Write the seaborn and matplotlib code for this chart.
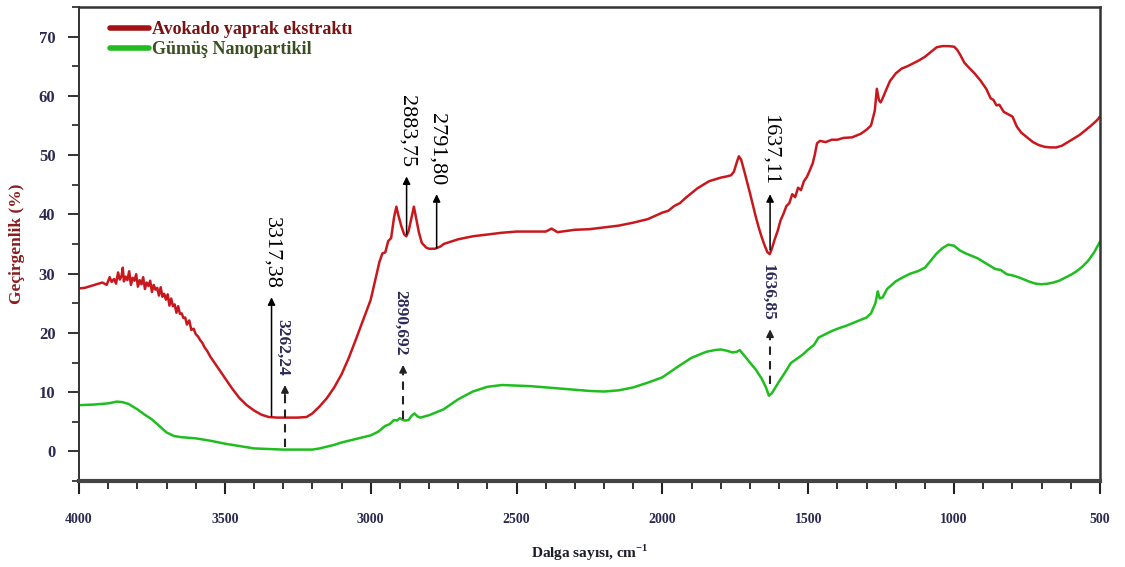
import matplotlib
matplotlib.use("Agg")
import matplotlib.pyplot as plt
import seaborn as sns
import pandas as pd
import numpy as np
from matplotlib.lines import Line2D

# ---- data ----
red_wn = [4000, 3980, 3960, 3940, 3920, 3905, 3895, 3888, 3880, 3873, 3866, 3860, 3854, 3850,
          3846, 3840, 3834, 3828, 3822, 3816, 3810, 3804, 3798, 3792, 3786, 3780, 3774, 3768,
          3762, 3756, 3750, 3744, 3738, 3732, 3726, 3720, 3714, 3708, 3702, 3696, 3690, 3684,
          3678, 3672, 3666, 3660, 3654, 3648, 3642, 3636, 3630, 3622, 3615, 3607, 3600, 3592,
          3585, 3577, 3570, 3560, 3550, 3525, 3500, 3475, 3450, 3425,
          3400, 3375, 3350, 3320, 3300, 3250, 3220, 3200, 3175, 3150, 3125, 3100, 3075, 3050,
          3025, 3000, 2985, 2970, 2960, 2950, 2940, 2930, 2920, 2912, 2905, 2895, 2885, 2878,
          2870, 2860, 2852, 2845, 2835, 2825, 2810, 2800, 2780, 2760, 2750, 2700, 2650, 2600,
          2550, 2500, 2450, 2400, 2380, 2360, 2300, 2250, 2200, 2150, 2100, 2050, 2000, 1980,
          1960, 1940, 1920, 1900, 1880, 1860, 1840, 1820, 1800, 1780, 1765, 1755, 1745, 1738,
          1730, 1720, 1710, 1700, 1690, 1680, 1670, 1660, 1650, 1640, 1632, 1625, 1615, 1605,
          1595, 1585, 1575, 1565, 1555, 1545, 1535, 1525, 1515, 1505, 1495, 1485, 1478, 1470,
          1460, 1440, 1420, 1400, 1380, 1350, 1320, 1300, 1285, 1272, 1265, 1258, 1252, 1245,
          1235, 1220, 1200, 1180, 1160, 1140, 1120, 1100, 1080, 1060, 1040, 1020, 1000, 990,
          980, 965, 950, 930, 910, 890, 875, 865, 855, 845, 830, 815, 800, 785, 770, 750, 730,
          710, 690, 670, 650, 630, 610, 590, 570, 550, 530, 510, 500]
red_t = [27.5, 27.6, 27.9, 28.2, 28.5, 28.1, 29.4, 28.6, 29.1, 28.3, 30.2, 29.0, 29.6, 31.0,
         28.7, 29.5, 28.9, 30.4, 28.1, 29.3, 28.8, 29.9, 27.8, 28.9, 28.2, 29.4, 27.4, 28.5,
         27.9, 28.8, 26.9, 28.1, 27.3, 27.6, 26.3, 27.7, 26.1, 26.6, 25.6, 26.5, 24.6, 25.8,
         24.5, 24.8, 23.4, 24.5, 23.2, 23.3, 22.5, 22.6, 21.4, 22.1, 20.5, 20.7, 19.8, 19.4,
         18.8, 18.3, 17.6, 16.9, 16.0, 14.2, 12.4, 10.6, 9.0, 7.8,
         6.9, 6.2, 5.8, 5.7, 5.7, 5.7, 5.8, 6.4, 7.6, 9.0, 10.8, 13.0, 15.8, 19.0,
         22.3, 25.6, 28.8, 32.0, 33.4, 33.6, 35.5, 36.0, 39.5, 41.3, 39.8, 38.0, 36.6, 36.3,
         37.2, 39.5, 41.3, 39.5, 37.0, 35.2, 34.4, 34.2, 34.2, 34.6, 35.0, 35.8, 36.3, 36.6,
         36.9, 37.1, 37.1, 37.1, 37.6, 37.0, 37.4, 37.5, 37.8, 38.1, 38.6, 39.2, 40.3, 40.6,
         41.4, 41.9, 42.8, 43.6, 44.4, 45.0, 45.6, 45.9, 46.2, 46.4, 46.6, 47.2, 48.8, 49.8,
         49.2, 47.4, 45.5, 43.6, 41.6, 39.6, 37.8, 36.2, 34.8, 33.6, 33.3, 34.2, 35.8, 37.2,
         39.0, 40.1, 41.4, 41.9, 43.4, 42.9, 44.5, 44.1, 45.6, 46.3, 47.4, 48.6, 50.0, 52.0,
         52.4, 52.2, 52.6, 52.6, 52.9, 53.0, 53.6, 54.3, 55.0, 57.5, 61.2, 59.3, 58.9, 59.6,
         60.8, 62.5, 63.8, 64.6, 65.0, 65.5, 66.0, 66.6, 67.4, 68.2, 68.4, 68.4, 68.3, 67.8,
         67.0, 65.6, 64.8, 63.8, 62.6, 61.2, 59.6, 59.3, 58.4, 58.5, 57.3, 56.9, 56.5, 54.8,
         53.8, 53.0, 52.2, 51.7, 51.4, 51.3, 51.3, 51.6, 52.2, 52.8, 53.4, 54.2, 55.0, 55.9, 56.5]

green_wn = [4000, 3950, 3900, 3870, 3850, 3830, 3800, 3775, 3750, 3725, 3700, 3675, 3650,
            3600, 3550, 3500, 3450, 3400, 3350, 3300, 3250, 3200, 3175, 3150, 3125, 3100,
            3050, 3000, 2975, 2950, 2935, 2920, 2910, 2900, 2890, 2880, 2870, 2860, 2850,
            2840, 2830, 2800, 2775, 2750, 2700, 2650, 2600, 2550, 2500, 2450, 2400, 2350,
            2300, 2250, 2200, 2150, 2100, 2050, 2000, 1950, 1900, 1850, 1820, 1800, 1780,
            1760, 1745, 1735, 1720, 1700, 1680, 1660, 1645, 1635, 1625, 1610, 1600, 1580,
            1560, 1540, 1520, 1500, 1480, 1465, 1440, 1420, 1400, 1370, 1340, 1300, 1285,
            1270, 1262, 1255, 1245, 1230, 1200, 1175, 1150, 1125, 1100, 1080, 1060, 1040,
            1020, 1000, 980, 960, 940, 920, 900, 880, 860, 840, 820, 800, 780, 760, 740,
            720, 700, 680, 660, 640, 620, 600, 580, 560, 540, 520, 500]
green_t = [7.8, 7.9, 8.1, 8.4, 8.3, 8.0, 7.1, 6.2, 5.4, 4.3, 3.2, 2.6, 2.4,
           2.2, 1.8, 1.3, 0.9, 0.5, 0.4, 0.3, 0.3, 0.3, 0.5, 0.8, 1.1, 1.5,
           2.1, 2.7, 3.3, 4.3, 4.6, 5.3, 5.2, 5.6, 5.3, 5.2, 5.3, 6.0, 6.4,
           5.9, 5.7, 6.1, 6.6, 7.1, 8.8, 10.1, 10.9, 11.2, 11.1, 11.0, 10.8, 10.6,
           10.4, 10.2, 10.1, 10.3, 10.8, 11.6, 12.5, 14.2, 15.8, 16.8, 17.1, 17.2, 17.0,
           16.7, 16.8, 17.1, 16.2, 15.0, 13.8, 12.3, 10.8, 9.4, 9.8, 11.0, 11.8, 13.3,
           14.9, 15.6, 16.3, 17.2, 18.0, 19.2, 19.8, 20.3, 20.7, 21.2, 21.8, 22.6, 23.3,
           25.0, 27.0, 25.8, 26.0, 27.4, 28.7, 29.4, 30.0, 30.4, 31.0, 32.2, 33.4, 34.3,
           34.9, 34.7, 33.9, 33.4, 33.0, 32.6, 32.0, 31.4, 30.8, 30.6, 29.9, 29.7, 29.4, 29.0,
           28.6, 28.3, 28.2, 28.3, 28.5, 28.8, 29.3, 29.8, 30.4, 31.2, 32.2, 33.6, 35.4]

series_labels = ["Avokado yaprak ekstraktı", "Gümüş Nanopartikil"]

# annotations: label, wavenumber of the arrow, arrow start and end (transmittance)
red_ann_labels = ["3317,38", "2883,75", "2791,80", "1637,11"]
red_ann_wn = [3340, 2877, 2774, 1631]
red_ann_y0 = [6.0, 36.6, 34.3, 34.0]
red_ann_y1 = [26.0, 46.4, 43.4, 43.4]

green_ann_labels = ["3262,24", "2890,692", "1636,85"]
green_ann_wn = [3294, 2889, 1631]
green_ann_y0 = [0.8, 5.4, 11.4]
green_ann_y1 = [11.2, 14.6, 20.6]

# ---- styling ----
sns.set_style("white")
SERIF = ['Liberation Serif', 'DejaVu Serif']
plt.rcParams['font.family'] = SERIF
plt.rcParams['mathtext.fontset'] = 'custom'
plt.rcParams['mathtext.rm'] = 'Liberation Serif'
plt.rcParams['mathtext.bf'] = 'Liberation Serif:bold'

RED = "#c8181e"
GREEN = "#1fbd1f"

df = pd.concat([
    pd.DataFrame({"wn": red_wn, "T": red_t, "series": series_labels[0]}),
    pd.DataFrame({"wn": green_wn, "T": green_t, "series": series_labels[1]}),
], ignore_index=True)

fig = plt.figure(figsize=(11.25, 5.67), dpi=100)
ax = fig.add_axes([79 / 1125, 1 - 481 / 567, (1100 - 79) / 1125, (481 - 7) / 567])

sns.lineplot(data=df, x="wn", y="T", hue="series", palette=[RED, GREEN],
             sort=False, estimator=None, linewidth=1.8, ax=ax, legend=False)

ax.set_xlim(4000, 500)
ax.set_ylim(-5, 75)

ax.set_xticks(np.arange(4000, 499, -500))
ax.set_xticks(np.arange(4000, 499, -100), minor=True)
ax.set_yticks(np.arange(0, 71, 10))
ax.set_yticks(np.arange(-5, 76, 5), minor=True)

tick_color = "#2c2a50"
ax.tick_params(axis="x", which="major", direction="out", length=9, width=1.5,
               color="#222222", labelsize=10, labelcolor=tick_color, pad=14, bottom=True)
ax.tick_params(axis="x", which="minor", direction="out", length=6, width=1.3,
               color="#222222", bottom=True)
ax.tick_params(axis="y", which="major", direction="out", length=8, width=1.3,
               color="#222222", labelsize=12, labelcolor=tick_color, pad=9, left=True)
ax.tick_params(axis="y", which="minor", direction="out", length=5, width=1.2,
               color="#222222", left=True)
for lab in ax.get_xticklabels() + ax.get_yticklabels():
    lab.set_fontweight("bold")

for side in ["top", "right", "left"]:
    ax.spines[side].set_color("#333333")
    ax.spines[side].set_linewidth(1.8)
ax.spines["left"].set_linewidth(1.4)
ax.spines["bottom"].set_color("#444444")
ax.spines["bottom"].set_linewidth(3.0)

ax.set_xlabel(r"Dalga sayısı, cm$^{\mathbf{-1}}$", fontsize=11, fontweight="bold",
              color="#1c1c2c", labelpad=12)
ax.set_ylabel("Geçirgenlik (%)", fontsize=12.5, fontweight="bold", color="#8a1c1c",
              labelpad=10)

# legend
handles = [Line2D([0], [0], color="#a51216", lw=4),
           Line2D([0], [0], color="#1fbd1f", lw=4)]
leg = ax.legend(handles, series_labels, loc="upper left", bbox_to_anchor=(0.014, 1.005),
                frameon=False, handlelength=2.2, handletextpad=0.15, labelspacing=0.2,
                prop={"family": "Liberation Serif", "weight": "bold", "size": 13})
leg.get_texts()[0].set_color("#7a1414")
leg.get_texts()[1].set_color("#3b5020")

# solid arrows for the extract spectrum
for lab, wn, y0, y1 in zip(red_ann_labels, red_ann_wn, red_ann_y0, red_ann_y1):
    ax.annotate("", xy=(wn, y1), xytext=(wn, y0),
                arrowprops=dict(arrowstyle="-|>", color="black", lw=1.1,
                                mutation_scale=11, shrinkA=0, shrinkB=0))
    ax.text(wn, y1 + 1.5, lab, rotation=-90, ha="center", va="bottom",
            fontsize=16, color="black", family=SERIF)

# dashed arrows for the nanoparticle spectrum
for lab, wn, y0, y1 in zip(green_ann_labels, green_ann_wn, green_ann_y0, green_ann_y1):
    ax.plot([wn, wn], [y0, y1 - 1.5], color="#222222", lw=1.5, ls=(0, (4, 3)))
    ax.annotate("", xy=(wn, y1), xytext=(wn, y1 - 1.6),
                arrowprops=dict(arrowstyle="-|>", color="#222222", lw=1.2,
                                mutation_scale=11, shrinkA=0, shrinkB=0))
    ax.text(wn + 8, y1 + 1.5, lab, rotation=-90, ha="center", va="bottom",
            fontsize=12.5, fontweight="bold", color="#2c2a58", family=SERIF)

fig.savefig("out.png", dpi=100)
